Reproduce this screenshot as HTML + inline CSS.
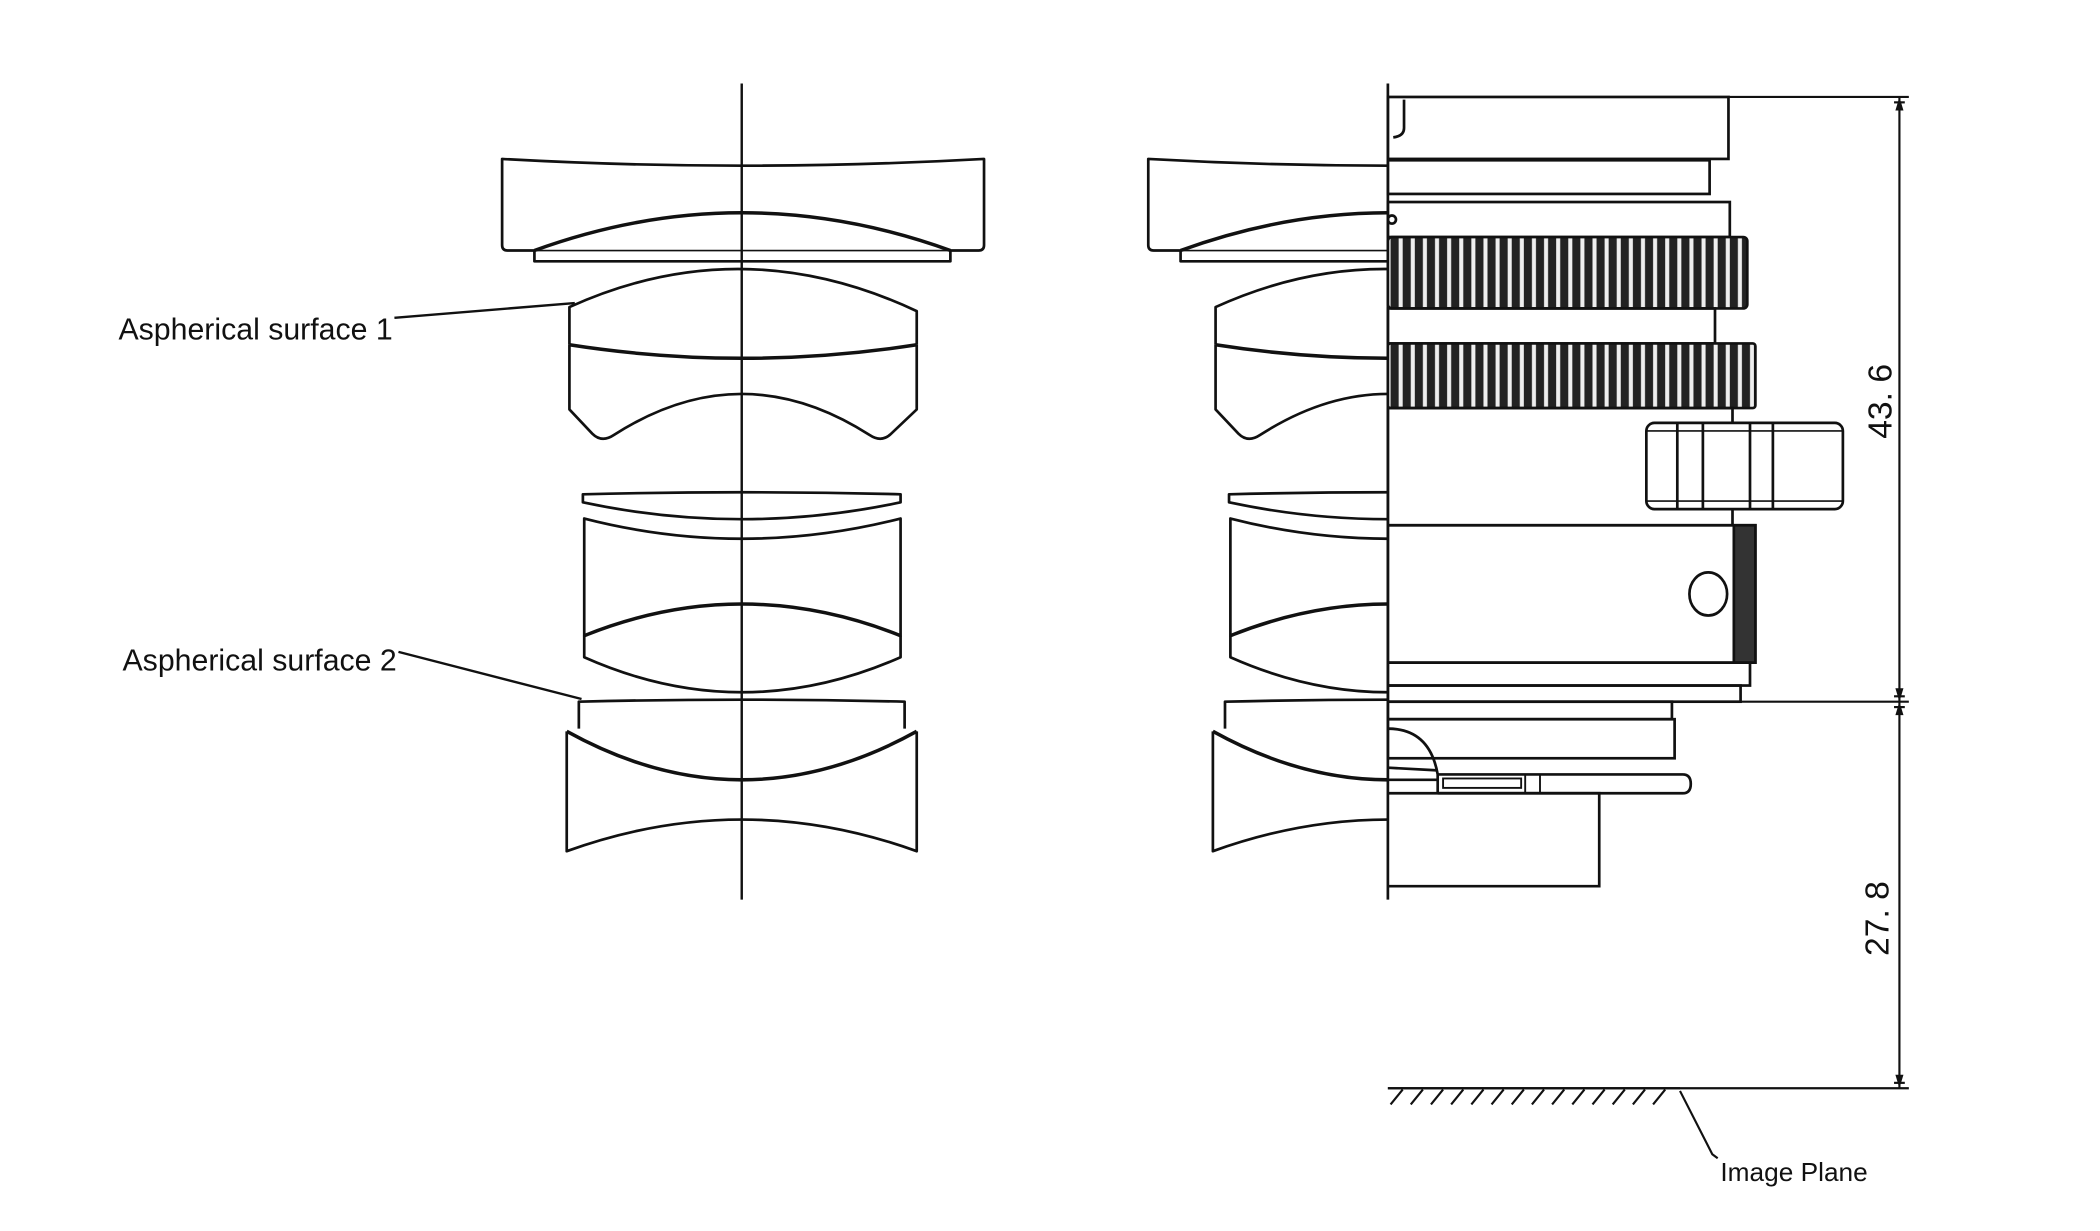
<!DOCTYPE html>
<html><head><meta charset="utf-8"><style>
html,body{margin:0;padding:0;background:#fff;}
svg{display:block;}
text{font-family:"Liberation Sans",sans-serif;fill:#111;}
</style></head><body>
<svg width="2100" height="1231" viewBox="0 0 1560 914" preserveAspectRatio="none" xmlns="http://www.w3.org/2000/svg">
<defs>
<pattern id="knurl" patternUnits="userSpaceOnUse" width="9" height="10" x="1036">
<rect width="9" height="10" fill="#222"/><rect x="3" width="3" height="10" fill="#eee"/>
</pattern>
<clipPath id="halfclip"><rect x="0" y="0" width="1031" height="914"/></clipPath>
<g id="lenses" fill="none" stroke="#111" stroke-width="2" stroke-linejoin="round">
 <path d="M373,118 Q551,128 731,118 L731,182 Q731,186 727,186 L706,186 L706,194 L397,194 L397,186 L377,186 Q373,186 373,182 Z"/>
 <path d="M397,186 Q551,130 706,186" stroke-width="2.6"/>
 <path d="M397,186 L706,186" stroke-width="1.2"/>
 <path d="M423,256 L423,228 Q551,170 681,231 L681,256" />
 <path d="M423,256 Q551,276 681,256" stroke-width="2.6"/>
 <path d="M423,256 L423,304 L440,322 Q447,329 456,323 Q551,262 646,323 Q655,329 662,322 L681,304 L681,256"/>
 <path d="M433,367 Q551,364 669,367 L669,373 Q551,398 433,373 Z"/>
 <path d="M434,385 Q551,415 669,385 L669,472 Q551,425 434,472 Z"/>
 <path d="M434,472 L434,488 Q551,540 669,488 L669,472" />
 <path d="M434,472 Q551,425 669,472" stroke-width="2.6"/>
 <path d="M430,541 L430,521 Q551,518 672,521 L672,541"/>
 <path d="M421,543 Q551,615 681,543" stroke-width="2.6"/>
 <path d="M421,543 L421,632 Q551,585 681,632 L681,543"/>
</g>
</defs>

<use href="#lenses"/>
<line x1="551" y1="62" x2="551" y2="668" stroke="#111" stroke-width="1.8"/>

<text x="88" y="252" font-size="22.5">Aspherical surface  1</text>
<line x1="293" y1="236" x2="427" y2="225" stroke="#111" stroke-width="1.8"/>
<text x="91" y="498" font-size="22.5">Aspherical surface 2</text>
<line x1="296" y1="484" x2="432" y2="519" stroke="#111" stroke-width="1.8"/>

<g clip-path="url(#halfclip)"><use href="#lenses" transform="translate(480,0)"/></g>
<line x1="1031" y1="62" x2="1031" y2="668" stroke="#111" stroke-width="2"/>

<g fill="none" stroke="#111" stroke-width="2">
 <rect x="1031" y="72" width="253" height="46" />
 <path d="M1043,74 L1043,95 Q1043,101 1035,102"/>
 <rect x="1031" y="119" width="239" height="25"/>
 <rect x="1031" y="150" width="254" height="26"/>
 <circle cx="1034" cy="163" r="3"/>
 <rect x="1031" y="176" width="267" height="53" fill="url(#knurl)" rx="3"/>
 <rect x="1031" y="229" width="243" height="26"/>
 <rect x="1031" y="255" width="273" height="48" fill="url(#knurl)" rx="2"/>
 <rect x="1031" y="303" width="256" height="87"/>
 <rect x="1223" y="314" width="146" height="64" rx="6" fill="#fff"/>
 <line x1="1246" y1="314" x2="1246" y2="378"/><line x1="1265" y1="314" x2="1265" y2="378"/>
 <line x1="1300" y1="314" x2="1300" y2="378"/><line x1="1317" y1="314" x2="1317" y2="378"/>
 <line x1="1223" y1="320" x2="1369" y2="320" stroke-width="1.2"/><line x1="1223" y1="372" x2="1369" y2="372" stroke-width="1.2"/>
 <rect x="1031" y="390" width="273" height="102"/>
 <rect x="1288" y="390" width="16" height="102" fill="#333"/>
 <ellipse cx="1269" cy="441" rx="14" ry="16"/>
 <rect x="1031" y="492" width="269" height="17"/>
 <rect x="1031" y="509" width="262" height="12"/>
 <rect x="1031" y="521" width="211" height="13"/>
 <rect x="1031" y="534" width="213" height="29"/>
 <path d="M1031,541 Q1062,541 1068,575 L1068,589"/>
 <path d="M1031,570 L1068,572 M1031,579 L1068,579"/>
 <path d="M1068,575 L1250,575 Q1256,575 1256,582 Q1256,589 1250,589 L1068,589"/>
 <rect x="1072" y="578" width="58" height="7" stroke-width="1.4"/>
 <line x1="1133" y1="575" x2="1133" y2="589" stroke-width="1.4"/><line x1="1144" y1="575" x2="1144" y2="589" stroke-width="1.4"/>
 <polyline points="1031,589 1188,589 1188,658 1031,658"/>
</g>

<g stroke="#111" stroke-width="1.6" fill="none">
 <line x1="1284" y1="72" x2="1418" y2="72"/>
 <line x1="1293" y1="521" x2="1418" y2="521"/>
 <line x1="1031" y1="808" x2="1418" y2="808"/>
 <line x1="1411" y1="72" x2="1411" y2="808"/>
 <line x1="1407" y1="76" x2="1415" y2="76"/><line x1="1407" y1="517" x2="1415" y2="517"/>
 <line x1="1407" y1="525" x2="1415" y2="525"/><line x1="1407" y1="804" x2="1415" y2="804"/>
</g>
<path d="M1411,72 l-3,10 h6z M1411,521 l-3,-10 h6z M1411,521 l-3,10 h6z M1411,808 l-3,-10 h6z" fill="#111"/>
<text transform="translate(1405,298) rotate(-90)" font-size="25" text-anchor="middle">43. 6</text>
<text transform="translate(1403,682) rotate(-90)" font-size="25" text-anchor="middle">27. 8</text>

<g stroke="#111" stroke-width="1.6">
 <line x1="1031" y1="808" x2="1248" y2="808"/>
 <path d="M1033,820 l9,-11 M1048,820 l9,-11 M1063,820 l9,-11 M1078,820 l9,-11 M1093,820 l9,-11 M1108,820 l9,-11 M1123,820 l9,-11 M1138,820 l9,-11 M1153,820 l9,-11 M1168,820 l9,-11 M1183,820 l9,-11 M1198,820 l9,-11 M1213,820 l9,-11 M1228,820 l9,-11"/>
 <polyline points="1248,810 1272,857 1276,860" fill="none"/>
</g>
<text x="1278" y="877" font-size="19.5">Image Plane</text>
</svg>
</body></html>
